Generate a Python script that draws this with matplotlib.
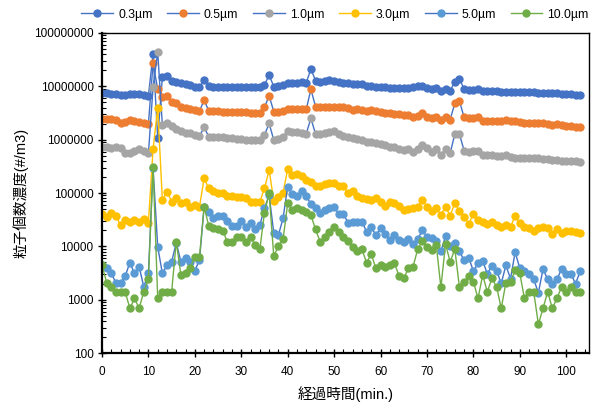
import numpy as np
import matplotlib.pyplot as plt
from matplotlib.ticker import FixedLocator, FuncFormatter, MultipleLocator

plt.rcParams['font.family'] = ['Liberation Sans', 'Noto Sans CJK JP']

minutes = np.arange(0, 104)

c03 = [7.4e6, 7.4e6, 7.2e6, 7.1e6, 6.9e6, 6.8e6, 7.1e6, 7.2e6, 7.1e6, 6.9e6,
       6.7e6, 4.05e7, 1.06e6, 1.48e7, 1.58e7, 1.28e7, 1.22e7, 1.14e7, 1.09e7, 1.06e7,
       9.9e6, 9.6e6, 1.32e7, 1.01e7, 9.9e6, 9.6e6, 9.6e6, 9.6e6, 9.6e6, 9.6e6,
       9.7e6, 9.9e6, 9.7e6, 9.6e6, 9.6e6, 1.06e7, 1.63e7, 9.9e6, 1.01e7, 1.06e7,
       1.14e7, 1.17e7, 1.17e7, 1.19e7, 1.17e7, 2.11e7, 1.28e7, 1.22e7, 1.28e7, 1.32e7,
       1.28e7, 1.22e7, 1.17e7, 1.14e7, 1.11e7, 1.09e7, 1.11e7, 1.03e7, 1.01e7, 9.9e6,
       9.6e6, 9.6e6, 9.4e6, 9.2e6, 9.2e6, 9.2e6, 9.4e6, 9.6e6, 1.01e7, 1.03e7,
       9.3e6, 8.9e6, 9.3e6, 8.0e6, 8.9e6, 8.3e6, 1.22e7, 1.37e7, 8.9e6, 8.5e6,
       8.5e6, 8.9e6, 8.0e6, 8.3e6, 8.0e6, 8.2e6, 7.9e6, 7.9e6, 7.9e6, 7.8e6,
       7.8e6, 7.7e6, 7.7e6, 7.8e6, 7.6e6, 7.6e6, 7.4e6, 7.5e6, 7.4e6, 7.2e6,
       7.3e6, 7.1e6, 7.0e6, 6.9e6]

c05 = [2.41e6, 2.48e6, 2.41e6, 2.34e6, 2.08e6, 2.18e6, 2.34e6, 2.27e6, 2.18e6, 2.02e6,
       1.97e6, 2.70e7, 8.79e6, 6.40e6, 6.59e6, 5.16e6, 4.80e6, 4.16e6, 3.87e6, 3.76e6,
       3.60e6, 3.40e6, 5.55e6, 3.45e6, 3.40e6, 3.40e6, 3.35e6, 3.35e6, 3.30e6, 3.30e6,
       3.26e6, 3.26e6, 3.21e6, 3.21e6, 3.21e6, 4.04e6, 6.68e6, 3.35e6, 3.35e6, 3.50e6,
       3.71e6, 3.76e6, 3.81e6, 3.76e6, 3.71e6, 8.79e6, 4.16e6, 4.16e6, 4.04e6, 4.16e6,
       4.04e6, 4.16e6, 4.04e6, 3.87e6, 3.60e6, 3.71e6, 3.60e6, 3.50e6, 3.60e6, 3.50e6,
       3.35e6, 3.21e6, 3.12e6, 3.03e6, 2.99e6, 2.90e6, 2.86e6, 2.70e6, 2.78e6, 3.21e6,
       2.70e6, 2.51e6, 2.66e6, 2.31e6, 2.66e6, 2.38e6, 4.80e6, 5.31e6, 2.62e6, 2.51e6,
       2.51e6, 2.70e6, 2.27e6, 2.27e6, 2.27e6, 2.24e6, 2.27e6, 2.34e6, 2.27e6, 2.27e6,
       2.18e6, 2.08e6, 2.02e6, 2.08e6, 2.02e6, 2.02e6, 1.97e6, 1.88e6, 1.94e6, 1.88e6,
       1.80e6, 1.80e6, 1.75e6, 1.70e6]

c10 = [7.40e5, 7.18e5, 7.08e5, 7.18e5, 6.88e5, 5.70e5, 5.55e5, 6.13e5, 6.59e5, 6.13e5,
       5.55e5, 9.58e6, 4.41e7, 1.88e6, 2.08e6, 1.80e6, 1.56e6, 1.47e6, 1.35e6, 1.31e6,
       1.22e6, 1.17e6, 1.70e6, 1.14e6, 1.14e6, 1.14e6, 1.11e6, 1.09e6, 1.06e6, 1.04e6,
       1.01e6, 9.86e5, 9.86e5, 9.86e5, 9.86e5, 1.22e6, 2.02e6, 9.86e5, 1.01e6, 1.11e6,
       1.47e6, 1.41e6, 1.37e6, 1.33e6, 1.30e6, 2.51e6, 1.28e6, 1.28e6, 1.31e6, 1.37e6,
       1.43e6, 1.30e6, 1.19e6, 1.12e6, 1.09e6, 1.04e6, 9.86e5, 9.18e5, 9.18e5, 8.79e5,
       8.18e5, 7.94e5, 7.40e5, 7.18e5, 6.78e5, 6.40e5, 6.59e5, 5.96e5, 6.59e5, 7.83e5,
       6.98e5, 5.96e5, 6.59e5, 5.16e5, 6.59e5, 5.55e5, 1.28e6, 1.28e6, 6.22e5, 5.87e5,
       6.22e5, 6.22e5, 5.24e5, 5.09e5, 5.09e5, 4.94e5, 4.94e5, 5.09e5, 4.80e5, 4.60e5,
       4.60e5, 4.47e5, 4.47e5, 4.53e5, 4.47e5, 4.28e5, 4.28e5, 4.16e5, 4.16e5, 4.04e5,
       3.98e5, 3.98e5, 3.93e5, 3.87e5]

c30 = [4.04e4, 3.60e4, 4.28e4, 3.71e4, 2.51e4, 3.12e4, 2.90e4, 3.12e4, 2.90e4, 3.21e4,
       2.78e4, 6.68e5, 3.98e6, 7.40e4, 1.06e5, 6.88e4, 7.94e4, 6.40e4, 6.88e4, 5.39e4,
       5.96e4, 5.55e4, 1.88e5, 1.22e5, 1.11e5, 1.01e5, 9.86e4, 8.79e4, 8.79e4, 8.53e4,
       8.30e4, 7.94e4, 6.88e4, 6.88e4, 6.88e4, 1.22e5, 2.70e5, 7.18e4, 8.30e4, 1.01e5,
       2.82e5, 2.18e5, 2.27e5, 2.08e5, 1.75e5, 1.63e5, 1.35e5, 1.35e5, 1.45e5, 1.56e5,
       1.56e5, 1.35e5, 1.37e5, 9.86e4, 1.11e5, 8.79e4, 7.94e4, 7.61e4, 7.40e4, 8.18e4,
       6.88e4, 5.70e4, 6.78e4, 6.40e4, 5.70e4, 4.80e4, 4.94e4, 5.16e4, 5.55e4, 7.50e4,
       5.55e4, 4.67e4, 5.24e4, 3.87e4, 5.55e4, 3.76e4, 6.50e4, 4.53e4, 3.60e4, 2.66e4,
       4.04e4, 3.16e4, 2.90e4, 2.66e4, 2.86e4, 2.51e4, 2.31e4, 2.51e4, 2.31e4, 3.76e4,
       2.70e4, 2.31e4, 2.18e4, 1.94e4, 2.18e4, 2.31e4, 2.18e4, 1.68e4, 2.08e4, 1.80e4,
       1.94e4, 1.94e4, 1.88e4, 1.78e4]

c50 = [4470, 3870, 3120, 2080, 2080, 2780, 4940, 3120, 4160, 1750,
       3120, 290000, 9860, 3120, 4470, 5160, 11700, 5160, 5960, 5160,
       3500, 5550, 55500, 44700, 33500, 37100, 37100, 30300, 24400, 24400,
       29900, 22700, 27800, 20800, 25100, 51600, 91800, 18000, 16300, 33500,
       132000, 94400, 87900, 111000, 87900, 62200, 51600, 42800, 48000, 51600,
       53900, 40400, 40400, 27800, 29000, 29000, 29000, 18800, 22700, 16300,
       21800, 17000, 13200, 16300, 13200, 12200, 13500, 11100, 13500, 20200,
       15000, 14100, 12600, 8050, 15600, 10100, 11700, 8050, 5470, 6140,
       3450, 4800, 5310, 3080, 4340, 3500, 2020, 4410, 2480, 7830,
       3870, 3450, 3080, 2410, 1350, 3760, 2410, 2000, 2410, 3760,
       3080, 3080, 2000, 3400]

c100 = [4470, 2080, 1750, 1410, 1410, 1410, 690, 1060, 690, 1410,
        2410, 312000, 1060, 1410, 1410, 1410, 12200, 2900, 3210, 3870,
        6400, 6400, 55500, 24100, 21800, 20800, 19700, 12200, 12200, 14700,
        14700, 12200, 14700, 10600, 8790, 42800, 98600, 6590, 10100, 13500,
        64000, 48000, 53100, 48000, 44700, 38700, 20800, 12200, 14700, 18800,
        22700, 18800, 14700, 12800, 9860, 8300, 8790, 4940, 7180, 3870,
        4470, 4160, 4470, 4800, 2780, 2510, 3870, 4160, 8790, 12800,
        9580, 8530, 10700, 1700, 11100, 5080, 8910, 1700, 2180, 2780,
        2180, 1060, 2900, 1410, 2510, 1750, 690, 2080, 2180, 3600,
        3120, 1060, 1410, 1410, 345, 690, 1410, 690, 1060, 1750,
        1410, 1750, 1410, 1410]

labels = ['0.3µm', '0.5µm', '1.0µm', '3.0µm', '5.0µm', '10.0µm']
series = [c03, c05, c10, c30, c50, c100]
marker_colors = ['#4472C4', '#ED7D31', '#A5A5A5', '#FFC000', '#5B9BD5', '#70AD47']
line_colors = ['#4472C4', '#4472C4', '#4472C4', '#FFC000', '#4472C4', '#70AD47']

fig = plt.figure(figsize=(5.93, 4.12), dpi=100)
ax = fig.add_axes([0.172, 0.143, 0.822, 0.777])

for y, lab, mc, lc in zip(series, labels, marker_colors, line_colors):
    ax.plot(minutes, y, color=lc, lw=1.0, marker='o', markersize=5.0,
            markerfacecolor=mc, markeredgecolor=mc, label=lab)

ax.set_yscale('log')
ax.set_ylim(100, 1e8)
ax.set_xlim(0, 105)

ax.yaxis.set_major_locator(FixedLocator([10.0 ** k for k in range(2, 9)]))
ax.yaxis.set_major_formatter(FuncFormatter(lambda v, p: '%d' % round(v)))
minors = [m * 10.0 ** k for k in range(2, 8) for m in range(2, 10)]
ax.yaxis.set_minor_locator(FixedLocator(minors))
ax.yaxis.set_minor_formatter(FuncFormatter(lambda v, p: ''))

ax.xaxis.set_major_locator(MultipleLocator(10))
ax.xaxis.set_minor_locator(MultipleLocator(2))

ax.tick_params(which='major', direction='inout', length=6, width=1.0,
               labelsize=8.5, colors='black', pad=3)
ax.tick_params(axis='x', which='major', pad=6)
ax.tick_params(which='minor', direction='in', length=3, width=0.8)

for side in ['left', 'bottom']:
    ax.spines[side].set_linewidth(1.6)
for side in ['top', 'right']:
    ax.spines[side].set_linewidth(1.0)
for s in ax.spines.values():
    s.set_color('black')

ax.set_xlabel('経過時間(min.)', fontsize=10.5, labelpad=6)
ax.set_ylabel('粒子個数濃度(#/m3)', fontsize=10.5, labelpad=4)

fig.legend(loc='upper center', bbox_to_anchor=(0.565, 1.0), ncol=6, frameon=False,
           fontsize=8.8, handlelength=2.6, columnspacing=1.2, handletextpad=0.4,
           borderaxespad=0.3)

fig.savefig('out.png', dpi=100)
